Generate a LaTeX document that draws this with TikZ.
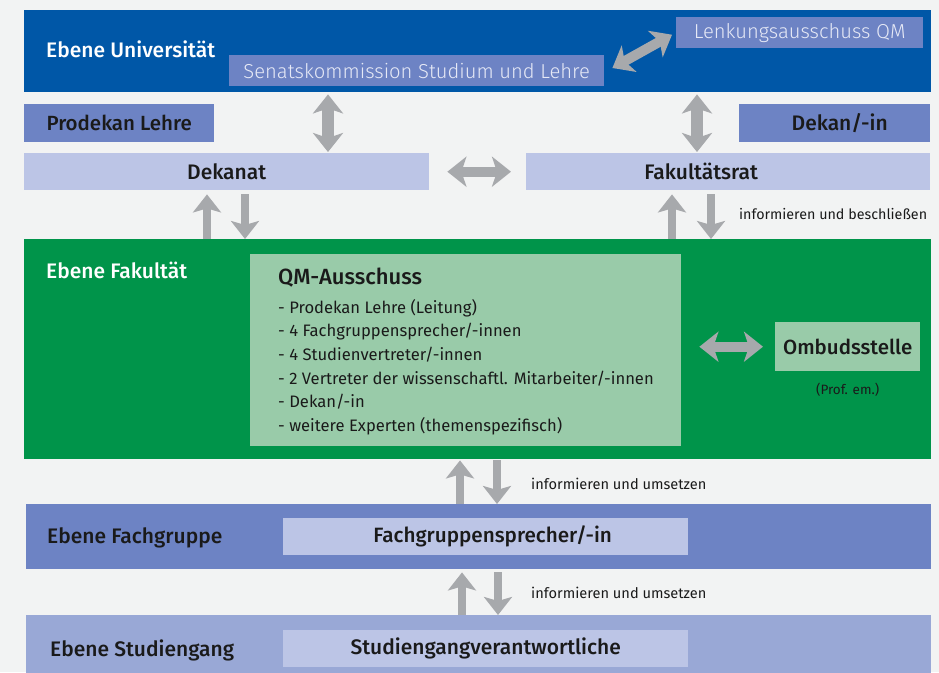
\documentclass[tikz,border=0pt]{standalone}
\usepackage{fontspec}
\setmainfont{Fira Sans}
\newfontfamily\fslight{Fira Sans Light}
\newfontfamily\fsmed{Fira Sans Medium}
\usetikzlibrary{arrows.meta,calc}
\definecolor{bgc}{HTML}{F2F3F3}
\definecolor{unib}{HTML}{0057A7}
\definecolor{midb}{HTML}{6D83C4}
\definecolor{lavb}{HTML}{BCC5E6}
\definecolor{grn}{HTML}{00944A}
\definecolor{lgrn}{HTML}{99CBA9}
\definecolor{stub}{HTML}{99A8D6}
\definecolor{arrg}{HTML}{A7A9AC}
\definecolor{txtd}{HTML}{1A1A1A}
\definecolor{txtl}{HTML}{E6E9F6}
\tikzset{
  box/.style={rectangle, inner sep=0pt, anchor=north west, draw=none},
  lbl/.style={inner sep=0pt},
  bigdbl/.style={draw=arrg, line width=12pt, {Stealth[length=19pt,width=30pt,inset=5pt]}-{Stealth[length=19pt,width=30pt,inset=5pt]}},
  uparr/.style={draw=arrg, line width=8pt, -{Stealth[length=18pt,width=28pt,inset=4pt]}},
  lvl/.style={lbl, anchor=west, font=\fsmed\fontsize{21}{24}\selectfont},
  boxtxt/.style={text=txtd, font=\fsmed\fontsize{21}{24}\selectfont},
  note/.style={lbl, anchor=west, text=txtd, font=\fontsize{14.3}{16}\selectfont},
}
\begin{document}
\begin{tikzpicture}[x=1pt,y=-1pt]
\useasboundingbox (0,0) rectangle (939,672);
\fill[bgc] (0,0) rectangle (939,672);
% bands
\node[box, fill=unib, minimum width=907pt, minimum height=82pt] (uni) at (24,10) {};
\node[box, fill=grn, minimum width=907pt, minimum height=220pt] (fak) at (24,239) {};
\node[box, fill=midb, minimum width=905pt, minimum height=65pt] (fg) at (26,504) {};
\node[box, fill=stub, minimum width=905pt, minimum height=60pt] (sg) at (26,615) {};
% band labels
\node[lvl, text=white] (lu) at (46,49) {Ebene Universität};
\node[lvl, text=white] (lf) at (46,270) {Ebene Fakultät};
\node[lvl, text=txtd] (lfg) at (47,538) {Ebene Fachgruppe};
\node[lvl, text=txtd] (lsg) at (50,650) {Ebene Studiengang};
% university boxes
\node[box, fill=midb, minimum width=375pt, minimum height=31pt, text=txtl, font=\fslight\fontsize{20.2}{22}\selectfont] (senat) at (229,55) {Senatskommission Studium und Lehre};
\node[box, fill=midb, minimum width=247pt, minimum height=31pt, text=txtl, font=\fslight\fontsize{20.2}{22}\selectfont] (lenk) at (676,17) {Lenkungsausschuss QM};
% second row
\node[box, fill=midb, minimum width=190pt, minimum height=38pt, boxtxt, font=\fsmed\fontsize{20.5}{24}\selectfont] (prod) at (24,104) {Prodekan Lehre};
\node[box, fill=midb, minimum width=191pt, minimum height=38pt, boxtxt] (dekan) at (739,104) {\hspace*{10pt}Dekan/-in};
\node[box, fill=lavb, minimum width=405pt, minimum height=37pt, boxtxt] (dekanat) at (24,153) {Dekanat};
\node[box, fill=lavb, minimum width=404pt, minimum height=37pt, boxtxt] (frat) at (526,153) {Fakultätsrat\hspace*{54pt}};
% faculty
\node[box, fill=lgrn, minimum width=431pt, minimum height=192pt] (qm) at (250,254) {};
\node[lbl, anchor=north west, align=left, text=txtd, font=\fontsize{16.6}{23.6}\selectfont] (qmtxt) at ([xshift=28pt,yshift=-14pt]qm.north west)
  {{\fsmed\fontsize{22}{23.6}\selectfont QM-Ausschuss}\\[5pt]
   - Prodekan Lehre (Leitung)\\
   - 4 Fachgruppensprecher/-innen\\
   - 4 Studienvertreter/-innen\\
   - 2 Vertreter der wissenschaftl. Mitarbeiter/-innen\\
   - Dekan/-in\\
   - weitere Experten (themenspezifisch)};
\node[box, fill=lgrn, minimum width=145pt, minimum height=49pt, boxtxt, font=\fsmed\fontsize{20.5}{24}\selectfont] (omb) at (775,322) {Ombudsstelle};
\node[lbl, text=txtd, font=\fontsize{13.5}{15}\selectfont] (prof) at ([yshift=-18pt]omb.south) {(Prof. em.)};
% lower inner boxes
\node[box, fill=lavb, minimum width=405pt, minimum height=37pt, boxtxt, font=\fsmed\fontsize{20.7}{24}\selectfont] (fgs) at (283,518) {\hspace*{14pt}Fachgruppensprecher/-in};
\node[box, fill=lavb, minimum width=405pt, minimum height=37pt, boxtxt] (sgv) at (283,630) {Studiengangverantwortliche};
% annotations
\node[note] (t1) at (739,214) {informieren und beschließen};
\node[note, font=\fontsize{14.6}{16}\selectfont] (t2) at (531,484) {informieren und umsetzen};
\node[note, font=\fontsize{14.6}{16}\selectfont] (t3) at (531,593) {informieren und umsetzen};
% helper coordinates
\coordinate (xa) at (328,0);
\coordinate (xb) at (697,0);
\coordinate (xl1) at (207,0);
\coordinate (xl2) at (245,0);
\coordinate (xr1) at (672,0);
\coordinate (xr2) at (711,0);
\coordinate (xm1) at (460,0);
\coordinate (xm2) at (497,0);
\coordinate (xn1) at (462,0);
\coordinate (xn2) at (498,0);
% arrows
\draw[bigdbl] ([yshift=-2pt]uni.south -| xa) -- ([yshift=1pt]dekanat.north -| xa);
\draw[bigdbl] ([yshift=-2pt]uni.south -| xb) -- ([yshift=1pt]frat.north -| xb);
\draw[bigdbl, line width=10pt] ([xshift=18pt]dekanat.east) -- ([xshift=-15pt]frat.west);
\draw[bigdbl, line width=10pt] ([xshift=8pt,yshift=-13pt]senat.north east) -- ([xshift=-4pt,yshift=-2pt]lenk.west);
\draw[bigdbl, line width=10pt] ([xshift=18pt]omb.west -| qm.east) -- ([xshift=-12pt]omb.west);
\draw[uparr] (fak.north -| xl1) -- ([yshift=-4pt]dekanat.south -| xl1);
\draw[uparr] ([yshift=-4pt]dekanat.south -| xl2) -- (fak.north -| xl2);
\draw[uparr] (fak.north -| xr1) -- ([yshift=-4pt]frat.south -| xr1);
\draw[uparr] ([yshift=-4pt]frat.south -| xr2) -- (fak.north -| xr2);
\draw[uparr] (fg.north -| xm1) -- ([yshift=-1pt]fak.south -| xm1);
\draw[uparr] ([yshift=-1pt]fak.south -| xm2) -- (fg.north -| xm2);
\draw[uparr] (sg.north -| xn1) -- ([yshift=-3pt]fg.south -| xn1);
\draw[uparr] ([yshift=-3pt]fg.south -| xn2) -- (sg.north -| xn2);
\end{tikzpicture}
\end{document}
